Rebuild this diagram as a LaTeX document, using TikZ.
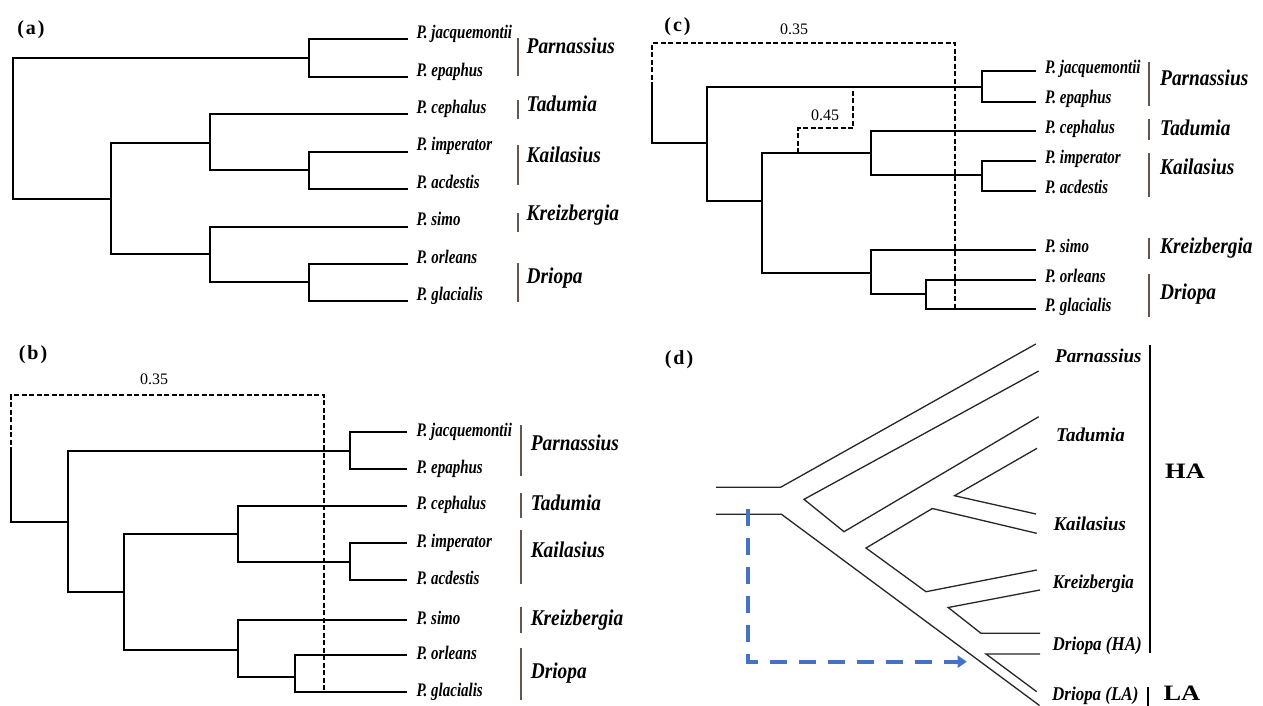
\documentclass[tikz,border=0pt]{standalone}
\usepackage{fontspec}
\setmainfont{Liberation Serif}
\newfontfamily\spfont{Liberation Serif}[FakeStretch=0.78]
\newfontfamily\gnfont{Liberation Serif}[FakeStretch=0.86]
\newfontfamily\dfont{Liberation Serif}[FakeStretch=0.97]
\newfontfamily\dnfont{Liberation Serif}[FakeStretch=0.87]
\newfontfamily\clfont{Liberation Serif}[FakeStretch=1.2]
\usetikzlibrary{arrows.meta}
\definecolor{barcol}{RGB}{100,85,80}
\definecolor{arrowblue}{RGB}{68,114,196}
\tikzset{
  species/.style={font=\spfont\bfseries\itshape\fontsize{19.2}{21}\selectfont, anchor=base west, inner sep=0pt},
  genus/.style={font=\gnfont\bfseries\itshape\fontsize{22.5}{24}\selectfont, anchor=base west, inner sep=0pt},
  dlabel/.style={font=\dfont\bfseries\itshape\fontsize{19.5}{21}\selectfont, anchor=base west, inner sep=0pt},
  dnarrow/.style={font=\dnfont\bfseries\itshape\fontsize{19.5}{21}\selectfont, anchor=base west, inner sep=0pt},
  clade/.style={font=\clfont\bfseries\fontsize{22}{24}\selectfont, anchor=base west, inner sep=0pt},
  value/.style={font=\fontsize{16}{18}\selectfont, inner sep=0pt},
  panel/.style={font=\bfseries\fontsize{20}{22}\selectfont, inner sep=0pt},
  bar/.style={line width=2pt, draw=barcol},
  tree/.style={line width=2pt},
  mig/.style={line width=1.8pt, dash pattern=on 5pt off 2.5pt},
  tube/.style={line width=1.3pt, draw=black!85, line join=miter},
  flow/.style={line width=4pt, draw=arrowblue, dash pattern=on 17pt off 12pt, -{Triangle[length=9pt,width=12pt]}}
}
\begin{document}
\begin{tikzpicture}[x=1pt,y=-1pt]
\useasboundingbox (0,0) rectangle (1263,705);
\fill[white] (0,0) rectangle (1263,705);

% ---------------- (a) ----------------
\node[panel] (lab-a) at (31,30) {(\kern2pt a\kern2pt)};
\coordinate (a1) at (408,39);
\coordinate (a2) at (408,77);
\coordinate (a3) at (408,114);
\coordinate (a4) at (408,152);
\coordinate (a5) at (408,189);
\coordinate (a6) at (408,227);
\coordinate (a7) at (408,264);
\coordinate (a8) at (408,301);
\coordinate (aP) at (309,58);
\coordinate (aK) at (309,170);
\coordinate (aD) at (309,282);
\coordinate (aT) at (210,143);
\coordinate (aQ) at (210,254);
\coordinate (aB) at (111,199);
\coordinate (aR) at (13,128);
\draw[tree] (a1) -| (aP) |- (a2);
\draw[tree] (a4) -| (aK) |- (a5);
\draw[tree] (a7) -| (aD) |- (a8);
\draw[tree] (a3) -| (aT) |- (aK);
\draw[tree] (a6) -| (aQ) |- (aD);
\draw[tree] (aT) -| (aB) |- (aQ);
\draw[tree] (aP) -| (aR) |- (aB);
\node[species] (sa1) at (416.5,38.3) {P. jacquemontii};
\node[species] (sa2) at (416.5,76.3) {P. epaphus};
\node[species] (sa3) at (416.5,113.3) {P. cephalus};
\node[species] (sa4) at (416.5,150.7) {P. imperator};
\node[species] (sa5) at (416.5,188) {P. acdestis};
\node[species] (sa6) at (416.5,225.7) {P. simo};
\node[species] (sa7) at (416.5,263) {P. orleans};
\node[species] (sa8) at (416.5,300) {P. glacialis};
\draw[bar] (517.5,38) -- (517.5,76);
\draw[bar] (517.5,100) -- (517.5,119);
\draw[bar] (517.5,145) -- (517.5,185);
\draw[bar] (517.5,213) -- (517.5,232);
\draw[bar] (517.5,263) -- (517.5,302);
\node[genus] (ga1) at (526.5,53.3) {Parnassius};
\node[genus] (ga2) at (526.5,111.7) {Tadumia};
\node[genus] (ga3) at (526.5,162.7) {Kailasius};
\node[genus] (ga4) at (526.5,220) {Kreizbergia};
\node[genus] (ga5) at (526.5,283.3) {Driopa};

% ---------------- (b) ----------------
\node[panel] (lab-b) at (33,355) {(\kern2pt b\kern2pt)};
\coordinate (b1) at (407,432);
\coordinate (b2) at (407,469);
\coordinate (b3) at (407,506);
\coordinate (b4) at (407,543);
\coordinate (b5) at (407,580);
\coordinate (b6) at (407,620);
\coordinate (b7) at (407,655);
\coordinate (b8) at (407,692);
\coordinate (bP) at (350,451);
\coordinate (bK) at (350,562);
\coordinate (bD) at (295,677);
\coordinate (bT) at (238,534);
\coordinate (bQ) at (238,650);
\coordinate (bB) at (124,592);
\coordinate (bA) at (68,522);
\coordinate (bR) at (11,452);
\coordinate (bN) at (324,395);
\coordinate (bE) at (324,692);
\draw[tree] (b1) -| (bP) |- (b2);
\draw[tree] (b4) -| (bK) |- (b5);
\draw[tree] (b7) -| (bD) |- (b8);
\draw[tree] (b3) -| (bT) |- (bK);
\draw[tree] (b6) -| (bQ) |- (bD);
\draw[tree] (bT) -| (bB) |- (bQ);
\draw[tree] (bP) -| (bA) |- (bB);
\draw[tree] (bA) -| (bR);
\draw[mig, line width=1.6pt] (bR) |- (bN) -- (bE);
\node[value] (vb) at (154,379) {0.35};
\node[species] (sb1) at (416.3,436.3) {P. jacquemontii};
\node[species] (sb2) at (416.3,473.3) {P. epaphus};
\node[species] (sb3) at (416.3,509.7) {P. cephalus};
\node[species] (sb4) at (416.3,547.3) {P. imperator};
\node[species] (sb5) at (416.3,584) {P. acdestis};
\node[species] (sb6) at (416.3,624) {P. simo};
\node[species] (sb7) at (416.3,659) {P. orleans};
\node[species] (sb8) at (416.3,696.3) {P. glacialis};
\draw[bar] (521.2,425) -- (521.2,475.7);
\draw[bar] (521.2,493) -- (521.2,518);
\draw[bar] (521.2,530) -- (521.2,584);
\draw[bar] (521.2,607) -- (521.2,633);
\draw[bar] (521.2,648) -- (521.2,700);
\node[genus] (gb1) at (530.6,450.5) {Parnassius};
\node[genus] (gb2) at (530.6,510.2) {Tadumia};
\node[genus] (gb3) at (530.6,557.5) {Kailasius};
\node[genus] (gb4) at (530.6,625.5) {Kreizbergia};
\node[genus] (gb5) at (530.6,678.2) {Driopa};

% ---------------- (c) ----------------
\node[panel] (lab-c) at (677.5,27) {(\kern2pt c\kern2pt)};
\coordinate (c1) at (1036,71);
\coordinate (c2) at (1036,102);
\coordinate (c3) at (1036,131);
\coordinate (c4) at (1036,161);
\coordinate (c5) at (1036,191);
\coordinate (c6) at (1036,250);
\coordinate (c7) at (1036,280);
\coordinate (c8) at (1036,309);
\coordinate (cP) at (982,87);
\coordinate (cK) at (982,175);
\coordinate (cD) at (926,294);
\coordinate (cT) at (871,153);
\coordinate (cQ) at (871,273);
\coordinate (cB) at (762,201);
\coordinate (cA) at (707,143);
\coordinate (cR) at (652,87);
\coordinate (cN) at (955,43);
\coordinate (cE) at (955,309);
\coordinate (cS) at (798,153);
\coordinate (cV) at (853,128);
\coordinate (cU) at (853,87);
\draw[tree] (c1) -| (cP) |- (c2);
\draw[tree] (c4) -| (cK) |- (c5);
\draw[tree] (c7) -| (cD) |- (c8);
\draw[tree] (c3) -| (cT) |- (cK);
\draw[tree] (c6) -| (cQ) |- (cD);
\draw[tree] (cT) -| (cB) |- (cQ);
\draw[tree] (cP) -| (cA) |- (cB);
\draw[tree] (cA) -| (cR);
\draw[mig, line width=2pt] (cR) |- (cN) -- (cE);
\draw[mig, line width=2pt] (cS) |- (cV) -- (cU);
\node[value] (vc1) at (794,29.5) {0.35};
\node[value] (vc2) at (825,115) {0.45};
\node[species] (sc1) at (1045,73) {P. jacquemontii};
\node[species] (sc2) at (1045,103.7) {P. epaphus};
\node[species] (sc3) at (1045,133) {P. cephalus};
\node[species] (sc4) at (1045,163) {P. imperator};
\node[species] (sc5) at (1045,193) {P. acdestis};
\node[species] (sc6) at (1045,252) {P. simo};
\node[species] (sc7) at (1045,282) {P. orleans};
\node[species] (sc8) at (1045,311) {P. glacialis};
\draw[bar] (1148.5,62) -- (1148.5,105.5);
\draw[bar] (1148.5,119) -- (1148.5,140);
\draw[bar] (1148.5,153) -- (1148.5,197);
\draw[bar] (1148.5,237.5) -- (1148.5,258.5);
\draw[bar] (1148.5,273.5) -- (1148.5,317);
\node[genus] (gc1) at (1160,85.8) {Parnassius};
\node[genus] (gc2) at (1160,135.5) {Tadumia};
\node[genus] (gc3) at (1160,174.2) {Kailasius};
\node[genus] (gc4) at (1160,253) {Kreizbergia};
\node[genus] (gc5) at (1160,299.2) {Driopa};

% ---------------- (d) ----------------
\node[panel] (lab-d) at (679,360) {(\kern2pt d\kern2pt)};
% outer stems
\coordinate (s0) at (716,487.3);
\coordinate (s1) at (780.6,487.3);
\coordinate (s2) at (1035.8,344);
\coordinate (t0) at (716,514.3);
\coordinate (t1) at (781.5,514.3);
\coordinate (t2) at (1039.5,705.5);
\draw[tube] (s0) -- (s1) -- (s2);
\draw[tube] (t0) -- (t1) -- (t2);
% inner lineages
\coordinate (u0) at (1038.7,371);
\coordinate (u1) at (804,499.3);
\coordinate (u2) at (844,531.7);
\coordinate (u3) at (1038.7,416.7);
\draw[tube] (u0) -- (u1) -- (u2) -- (u3);
\coordinate (k0) at (1037,448.3);
\coordinate (k1) at (954.5,495.7);
\coordinate (k2) at (1036,514);
\draw[tube] (k0) -- (k1) -- (k2);
\coordinate (m0) at (1036.7,533.3);
\coordinate (m1) at (932.3,508.5);
\coordinate (m2) at (866,548);
\coordinate (m3) at (926,591.7);
\coordinate (m4) at (1036.7,570);
\draw[tube] (m0) -- (m1) -- (m2) -- (m3) -- (m4);
\coordinate (h0) at (1040,590);
\coordinate (h1) at (948.2,607.5);
\coordinate (h2) at (981,633.3);
\coordinate (h3) at (1040,633.3);
\draw[tube] (h0) -- (h1) -- (h2) -- (h3);
\coordinate (l0) at (1040,654);
\coordinate (l1) at (986,654);
\coordinate (l2) at (1036.7,691.7);
\draw[tube] (l0) -- (l1) -- (l2);
% dispersal arrow
\coordinate (f0) at (748.3,509.3);
\coordinate (f1) at (966.7,661.7);
\draw[flow] (f0) |- (f1);
% labels and brackets
\node[dlabel] (dl1) at (1055,362.7) {Parnassius};
\node[dlabel] (dl2) at (1056,441) {Tadumia};
\node[dlabel] (dl3) at (1053.3,530) {Kailasius};
\node[dnarrow] (dl4) at (1052.7,588.4) {Kreizbergia};
\node[dnarrow] (dl5) at (1052.5,650) {Driopa (HA)};
\node[dnarrow] (dl6) at (1052,700.7) {Driopa (LA)};
\draw[line width=2pt] (1150,345) -- (1150,653.3);
\draw[line width=2pt] (1148.3,687.3) -- (1148.3,706);
\node[clade] (ha) at (1165,478.2) {HA};
\node[clade] (la) at (1163.3,700.8) {LA};
\end{tikzpicture}
\end{document}
